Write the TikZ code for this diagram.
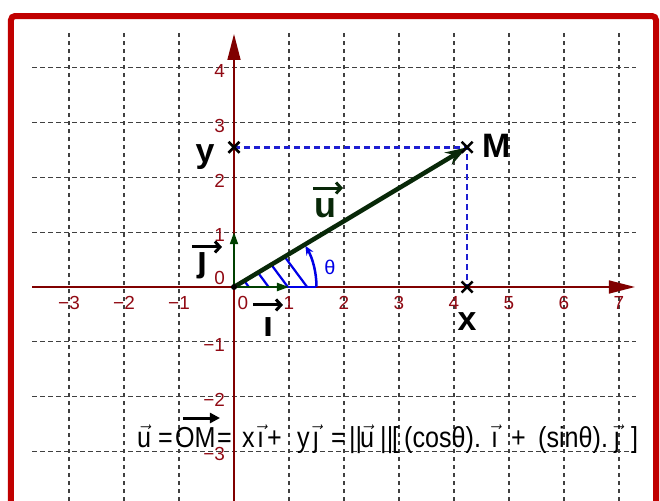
\documentclass[tikz,border=0pt]{standalone}
\usepackage{fontspec}
\usepackage{amsmath}
\setmainfont{Liberation Sans}
\newfontfamily\eqfont[FakeStretch=0.87]{Liberation Sans}
\usetikzlibrary{arrows.meta}
\definecolor{framered}{RGB}{192,0,0}
\definecolor{axred}{RGB}{128,0,0}
\definecolor{ticred}{RGB}{145,10,20}
\definecolor{vecgreen}{RGB}{0,64,0}
\definecolor{udark}{RGB}{8,40,8}
\definecolor{thetablue}{RGB}{0,0,230}
\definecolor{dashblue}{RGB}{30,30,210}
\begin{document}
\begin{tikzpicture}[x=55bp,y=54.8bp,
  gridline/.style={black!75,line width=1.2bp,dash pattern=on 4.5bp off 3.5bp},
  axisline/.style={axred,line width=1.6bp,-{Triangle[length=26bp,width=13bp]}},
  ticklab/.style={ticred,font=\fontsize{19}{22}\selectfont,inner sep=0},
  crossline/.style={black,line width=2.5bp},
  biglab/.style={font=\bfseries\fontsize{36}{40}\selectfont,anchor=base,inner sep=0},
  letlab/.style={font=\bfseries\fontsize{34}{38}\selectfont,anchor=base,inner sep=0},
  lblarrow/.style={line width=3bp,-{Straight Barb[length=5bp,width=11bp]}},
  eqtxt/.style={anchor=base west,inner sep=0,font=\eqfont\fontsize{29}{34}\selectfont}
]
\useasboundingbox (-4.2545,-3.905) rectangle (7.7455,5.2372);
\clip (-4.2545,-3.905) rectangle (7.7455,5.2372);
\draw[framered,line width=6bp,rounded corners=4bp] (-4.0545,-6) rectangle (7.673,4.945);

% grid
\foreach \x in {-3,-2,-1,1,2,3,4,5,6,7}
  \draw[gridline] (\x,-4.2) -- (\x,4.69);
\foreach \y in {-3,-2,-1,1,2,3,4}
  \draw[gridline] (-3.67,\y) -- (7.31,\y);

% axes
\coordinate (xa0) at (-3.67,0);
\coordinate (xa1) at (7.29,0);
\coordinate (ya0) at (0,-4.2);
\coordinate (ya1) at (0,4.617);
\draw[axisline] (xa0) -- (xa1);
\draw[axisline] (ya0) -- (ya1);

% tick labels
\foreach \v/\t in {-3/−3,-2/−2,-1/−1,1/1,2/2,3/3,4/4,5/5,6/6,7/7}
  \node[ticklab] (xt\v) at (\v,-0.29) {\t};
\node[ticklab] (xt0) at (0.16,-0.29) {0};
\foreach \v/\t in {-3/−3,-2/−2,-1/−1,1/1,2/2,3/3,4/4}
  \node[ticklab,anchor=east] (yt\v) at (-0.16,\v-0.055) {\t};
\node[ticklab,anchor=east] (yt0) at (-0.16,0.16) {0};

% points
\coordinate (O) at (0,0);
\coordinate (M) at (4.24,2.55);
\coordinate (X) at (4.24,0);
\coordinate (Y) at (0,2.55);
\coordinate (I) at (1,0);
\coordinate (J) at (0,1);
\coordinate (R) at (1.5,0);

% blue dashed projections
\draw[dashblue,line width=2.5bp,dash pattern=on 6bp off 4bp] (Y) -- (M) -- (X);

% hatched sector
\begin{scope}
  \clip (O) -- (R) arc[start angle=0,end angle=31.03,radius=1.5] -- cycle;
  \foreach \a in {0.27,0.63,0.98,1.33}
    \draw[thetablue,line width=2.2bp] (\a,0) -- ++(-1,1.35);
\end{scope}
\draw[thetablue,line width=2.5bp] (O) -- (R);
\draw[thetablue,line width=2.5bp,-{Stealth[length=9bp,width=8bp]}] (R) arc[start angle=0,end angle=30,radius=1.5];
\node[thetablue,font=\fontsize{20}{24}\selectfont,inner sep=0] (th) at (1.745,0.365) {θ};

% vectors
\draw[vecgreen,line width=2bp,-{Triangle[length=12bp,width=8bp]}] (O) -- (I);
\draw[vecgreen,line width=2bp,-{Triangle[length=12bp,width=8bp]}] (O) -- (J);
\draw[udark,line width=4.5bp,-{Stealth[length=22bp,width=14bp]}] (O) -- (M);
\fill[black] (O) circle[radius=3bp];

% crosses
\foreach \p in {M,X,Y}
  \draw[crossline] ([shift={(-5.5bp,-5.5bp)}]\p) -- ([shift={(5.5bp,5.5bp)}]\p)
                   ([shift={(-5.5bp,5.5bp)}]\p) -- ([shift={(5.5bp,-5.5bp)}]\p);

% letter labels
\node[letlab] (Mlab) at (4.77,2.372) {M};
\node[letlab] (xlab) at (4.236,-0.785) {x};
\node[letlab] (ylab) at (-0.527,2.28) {y};

% vector labels
\node[biglab,udark] (ulab) at (1.655,1.277) {u};
\draw[lblarrow,udark] ([shift={(-12bp,29bp)}]ulab.base) -- ([shift={(18bp,29bp)}]ulab.base);
\node[biglab] (jlab) at (-0.564,0.274) {ȷ};
\draw[lblarrow] ([shift={(-11bp,25bp)}]jlab.base) -- ([shift={(19bp,25bp)}]jlab.base);
\node[biglab] (ilab) at (0.618,-0.912) {ı};
\draw[lblarrow] ([shift={(-15bp,32bp)}]ilab.base) -- ([shift={(15bp,32bp)}]ilab.base);

% equation
\node[eqtxt] (om) at (-1.073,-2.92) {OM};
\draw[line width=3bp,-{Triangle[length=10bp,width=10bp]}] ([shift={(8bp,29bp)}]om.base west) -- ([shift={(45bp,29bp)}]om.base west);
\foreach \px/\t [count=\k] in {
    -1.764/{$\vec{\text{u}}$ =},
    -0.309/{=},
    0.145/{x},
    0.418/{$\vec{\text{ı}}$},
    0.6/{+},
    1.145/{y},
    1.436/{$\vec{\text{ȷ}}$},
    1.764/{=},
    2.091/{||},
    2.291/{$\vec{\text{u}}$},
    2.655/{||},
    2.873/{[},
    3.091/{(cosθ).},
    4.673/{$\vec{\text{ı}}$},
    5.036/{+},
    5.527/{(sinθ).},
    6.909/{$\vec{\text{ȷ}}$},
    7.218/{]}}
  \node[eqtxt] (e\k) at (\px,-2.92) {\t};
\end{tikzpicture}
\end{document}
